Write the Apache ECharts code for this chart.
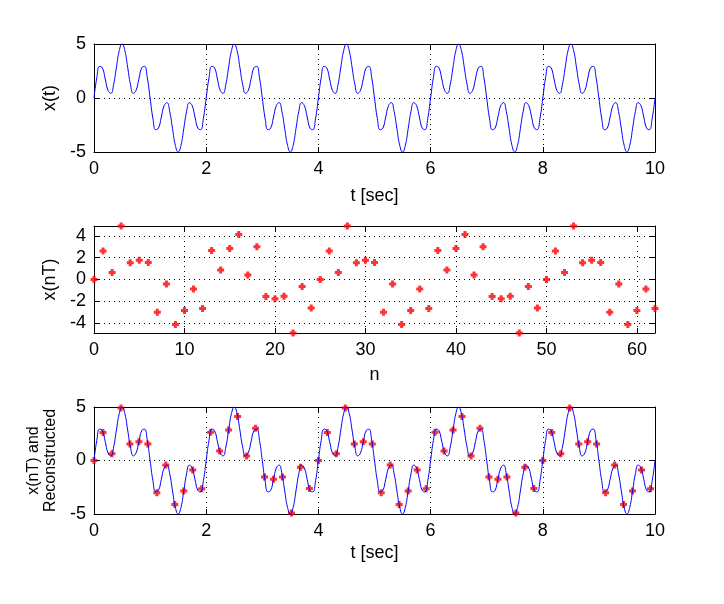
<!DOCTYPE html>
<html><head><meta charset="utf-8">
<script src="https://cdn.jsdelivr.net/npm/echarts@6/dist/echarts.min.js"></script>
<style>html,body{margin:0;padding:0;background:#fff}#c{width:724px;height:604px}</style>
</head><body><div id="c"></div>
<script>
// continuous signal x(t), sampled every 0.05 s from t = 0 to 10
const curveStep = 0.05;
const curveValues = [
  0, 1.88, 2.93, 2.78, 1.76, 0.71, 0.43, 1.26, 2.85, 4.38, 5, 4.38, 2.85, 1.26, 0.43, 0.71, 1.76, 2.78, 2.93, 1.88,
  0, -1.88, -2.93, -2.78, -1.76, -0.71, -0.43, -1.26, -2.85, -4.38, -5, -4.38, -2.85, -1.26, -0.43, -0.71, -1.76, -2.78, -2.93, -1.88,
  0, 1.88, 2.93, 2.78, 1.76, 0.71, 0.43, 1.26, 2.85, 4.38, 5, 4.38, 2.85, 1.26, 0.43, 0.71, 1.76, 2.78, 2.93, 1.88,
  0, -1.88, -2.93, -2.78, -1.76, -0.71, -0.43, -1.26, -2.85, -4.38, -5, -4.38, -2.85, -1.26, -0.43, -0.71, -1.76, -2.78, -2.93, -1.88,
  0, 1.88, 2.93, 2.78, 1.76, 0.71, 0.43, 1.26, 2.85, 4.38, 5, 4.38, 2.85, 1.26, 0.43, 0.71, 1.76, 2.78, 2.93, 1.88,
  0, -1.88, -2.93, -2.78, -1.76, -0.71, -0.43, -1.26, -2.85, -4.38, -5, -4.38, -2.85, -1.26, -0.43, -0.71, -1.76, -2.78, -2.93, -1.88,
  0, 1.88, 2.93, 2.78, 1.76, 0.71, 0.43, 1.26, 2.85, 4.38, 5, 4.38, 2.85, 1.26, 0.43, 0.71, 1.76, 2.78, 2.93, 1.88,
  0, -1.88, -2.93, -2.78, -1.76, -0.71, -0.43, -1.26, -2.85, -4.38, -5, -4.38, -2.85, -1.26, -0.43, -0.71, -1.76, -2.78, -2.93, -1.88,
  0, 1.88, 2.93, 2.78, 1.76, 0.71, 0.43, 1.26, 2.85, 4.38, 5, 4.38, 2.85, 1.26, 0.43, 0.71, 1.76, 2.78, 2.93, 1.88,
  0, -1.88, -2.93, -2.78, -1.76, -0.71, -0.43, -1.26, -2.85, -4.38, -5, -4.38, -2.85, -1.26, -0.43, -0.71, -1.76, -2.78, -2.93, -1.88,
  0
];
// samples x(nT), T = 0.16 s, n = 0..62
const sampleStep = 0.16;
const sampleValues = [
  0, 2.62, 0.63, 4.90, 1.54, 1.76, 1.55, -3.01, -0.41, -4.12, -2.85, -0.88, -2.65, 2.65, 0.88, 2.85, 4.12, 0.41, 3.01, -1.55, -1.76, -1.54, -4.90, -0.63, -2.62,
  0, 2.62, 0.63, 4.90, 1.54, 1.76, 1.55, -3.01, -0.41, -4.12, -2.85, -0.88, -2.65, 2.65, 0.88, 2.85, 4.12, 0.41, 3.01, -1.55, -1.76, -1.54, -4.90, -0.63, -2.62,
  0, 2.62, 0.63, 4.90, 1.54, 1.76, 1.55, -3.01, -0.41, -4.12, -2.85, -0.88, -2.65
];
const titles = {
  top: { x: 't [sec]', y: 'x(t)' },
  mid: { x: 'n', y: 'x(nT)' },
  bot: { x: 't [sec]', y: 'x(nT) and\nReconstructed' }
};

const FONT = 'Liberation Sans, Arial, Helvetica, sans-serif';
const curveData = curveValues.map((v, i) => [+(i * curveStep).toFixed(4), v]);
const sampleIdxData = sampleValues.map((v, n) => [n, v]);
const sampleTimeData = sampleValues.map((v, n) => [+(n * sampleStep).toFixed(4), v]);

const plusPath = 'path://M2,0H5V2H7V5H5V7H2V5H0V2H2Z';
const dotted = { color: '#000', width: 1, type: [1, 4] };

function mkX(g, pos, o) {
  const main = pos === 'bottom';
  return Object.assign({
    gridIndex: g, type: 'value', position: pos,
    axisLine: { show: true, onZero: false, lineStyle: { color: '#000', width: 1 } },
    axisTick: { show: true, inside: true, length: 5, lineStyle: { color: '#000' } },
    axisLabel: { show: main, color: '#000', fontSize: 18, fontFamily: FONT, margin: 8, showMaxLabel: o.showMax !== false },
    splitLine: { show: main, lineStyle: dotted },
    name: main ? o.name : '', nameLocation: 'middle', nameGap: o.gap,
    nameTextStyle: { color: '#000', fontSize: 18, fontFamily: FONT }
  }, o.range);
}
function mkY(g, pos, o) {
  const main = pos === 'left';
  return Object.assign({
    gridIndex: g, type: 'value', position: pos,
    axisLine: { show: true, onZero: false, lineStyle: { color: '#000', width: 1 } },
    axisTick: { show: true, inside: true, length: 5, lineStyle: { color: '#000' } },
    axisLabel: { show: main, color: '#000', fontSize: 18, fontFamily: FONT, margin: 8, showMinLabel: o.edge !== false, showMaxLabel: o.edge !== false },
    splitLine: { show: main, lineStyle: dotted },
    name: main ? o.name : '', nameLocation: 'middle', nameGap: o.gap,
    nameTextStyle: Object.assign({ color: '#000', fontSize: 18, fontFamily: FONT }, o.nameStyle || {})
  }, o.range);
}

const tRange = { min: 0, max: 10, interval: 2 };
const nRange = { min: 0, max: 62, interval: 10 };
const yRange5 = { min: -5, max: 5, interval: 5 };
const yRangeMid = { min: -4.9, max: 4.9 };

const option = {
  backgroundColor: '#fff',
  animation: false,
  grid: [
    { left: 94, top: 44, width: 561, height: 108 },
    { left: 94, top: 226, width: 561, height: 107 },
    { left: 94, top: 407, width: 561, height: 107 }
  ],
  xAxis: [
    mkX(0, 'bottom', { name: titles.top.x, gap: 35, range: tRange }),
    mkX(0, 'top', { range: tRange }),
    mkX(1, 'bottom', { name: titles.mid.x, gap: 33, range: nRange, showMax: false }),
    mkX(1, 'top', { range: nRange }),
    mkX(2, 'bottom', { name: titles.bot.x, gap: 30, range: tRange }),
    mkX(2, 'top', { range: tRange })
  ],
  yAxis: [
    mkY(0, 'left', { name: titles.top.y, gap: 27, range: yRange5 }),
    mkY(0, 'right', { range: yRange5 }),
    mkY(1, 'left', { name: titles.mid.y, gap: 27, range: yRangeMid, edge: false }),
    mkY(1, 'right', { range: yRangeMid }),
    mkY(2, 'left', { name: titles.bot.y, gap: 29, range: yRange5, nameStyle: { fontSize: 16, lineHeight: 17 } }),
    mkY(2, 'right', { range: yRange5 })
  ],
  series: [
    { type: 'line', xAxisIndex: 0, yAxisIndex: 0, data: curveData, showSymbol: false, smooth: true,
      lineStyle: { color: '#0000ff', width: 1 }, silent: true },
    { type: 'scatter', xAxisIndex: 2, yAxisIndex: 2, data: sampleIdxData, symbol: plusPath, symbolSize: 7,
      itemStyle: { color: '#ff0000' }, silent: true },
    { type: 'scatter', xAxisIndex: 4, yAxisIndex: 4, data: sampleTimeData, symbol: plusPath, symbolSize: 7,
      itemStyle: { color: '#ff0000' }, silent: true, z: 2 },
    { type: 'line', xAxisIndex: 4, yAxisIndex: 4, data: curveData, showSymbol: false, smooth: true,
      lineStyle: { color: '#0000ff', width: 1 }, silent: true, z: 3 }
  ]
};
const chart = echarts.init(document.getElementById('c'), null, { renderer: 'canvas' });
chart.setOption(option);
</script>
</body></html>
